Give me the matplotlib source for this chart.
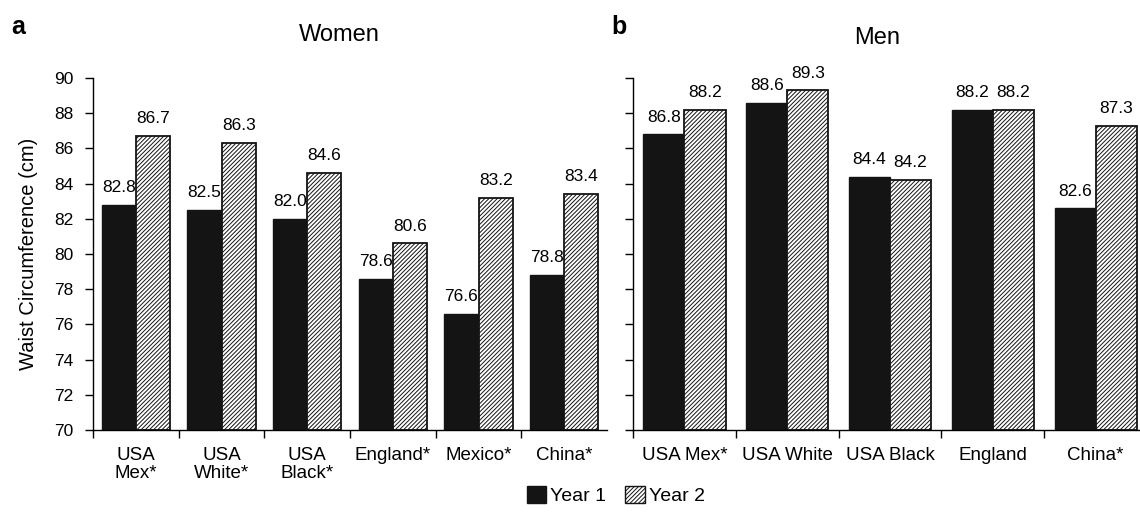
import numpy as np
import matplotlib
matplotlib.use("Agg")
import matplotlib.pyplot as plt
from matplotlib.patches import Patch

plt.rcParams['font.family'] = ['Liberation Sans', 'DejaVu Sans']
plt.rcParams['hatch.linewidth'] = 0.7

## data
women_groups = ["USA\nMex*", "USA\nWhite*", "USA\nBlack*", "England*", "Mexico*", "China*"]
women_y1 = [82.8, 82.5, 82.0, 78.6, 76.6, 78.8]
women_y2 = [86.7, 86.3, 84.6, 80.6, 83.2, 83.4]

men_groups = ["USA Mex*", "USA White", "USA Black", "England", "China*"]
men_y1 = [86.8, 88.6, 84.4, 88.2, 82.6]
men_y2 = [88.2, 89.3, 84.2, 88.2, 87.3]

yticks = [70, 72, 74, 76, 78, 80, 82, 84, 86, 88, 90]

fig = plt.figure(figsize=(11.4, 5.15), dpi=100)
axL = fig.add_axes([0.0816, 0.165, 0.4509, 0.6835])
axR = fig.add_axes([0.5553, 0.165, 0.4509, 0.6835])

def draw_panel(ax, groups, y1, y2, show_labels):
    n = len(groups)
    x = np.arange(n)
    w = 0.4
    ax.bar(x + 0.1, np.array(y1) - 70, bottom=70, width=w, align='edge',
           color='#141414', edgecolor='#141414', linewidth=1.0)
    ax.bar(x + 0.1 + w, np.array(y2) - 70, bottom=70, width=w, align='edge',
           color='white', edgecolor='#141414', hatch='////////', linewidth=1.3)
    for i in range(n):
        ax.annotate("%.1f" % y1[i], (x[i] + 0.1 + w/2, y1[i]), xytext=(0, 7),
                    textcoords='offset points', ha='center', va='bottom', fontsize=12.5)
        ax.annotate("%.1f" % y2[i], (x[i] + 0.1 + 1.5*w, y2[i]), xytext=(0, 7),
                    textcoords='offset points', ha='center', va='bottom', fontsize=12.5)
    ax.set_xlim(0, n)
    ax.set_ylim(70, 90)
    ax.set_yticks(yticks)
    ax.set_xticks(np.arange(n))
    ax.set_xticklabels([])
    ax.set_xticks(x + 0.5, minor=True)
    ax.set_xticklabels(groups, minor=True, fontsize=13.5, linespacing=1.1)
    ax.tick_params(axis='x', which='minor', length=0, pad=12)
    ax.tick_params(axis='x', which='major', length=6, width=1.0, direction='out')
    ax.tick_params(axis='y', length=6, width=1.0, direction='out', labelsize=12.5,
                   pad=8, labelleft=show_labels)
    for s in ['top', 'right']:
        ax.spines[s].set_visible(False)
    for s in ['left', 'bottom']:
        ax.spines[s].set_linewidth(1.0)

draw_panel(axL, women_groups, women_y1, women_y2, True)
draw_panel(axR, men_groups, men_y1, men_y2, False)

axL.set_ylabel("Waist Circumference (cm)", fontsize=14.5, labelpad=12)

fig.text(0.298, 0.932, "Women", fontsize=17, ha='center', va='center')
fig.text(0.769, 0.927, "Men", fontsize=17, ha='center', va='center')
fig.text(0.010, 0.948, "a", fontsize=18, fontweight='bold', ha='left', va='center')
fig.text(0.536, 0.948, "b", fontsize=18, fontweight='bold', ha='left', va='center')

handles = [Patch(facecolor='#141414', edgecolor='#141414', label='Year 1'),
           Patch(facecolor='white', edgecolor='#141414', hatch='////////', label='Year 2')]
fig.legend(handles=handles, loc='lower center', bbox_to_anchor=(0.54, -0.015), ncol=2,
           frameon=False, fontsize=14, handlelength=1.0, handleheight=1.0,
           handletextpad=0.2, columnspacing=1.0)

fig.savefig("out.png", dpi=100)
